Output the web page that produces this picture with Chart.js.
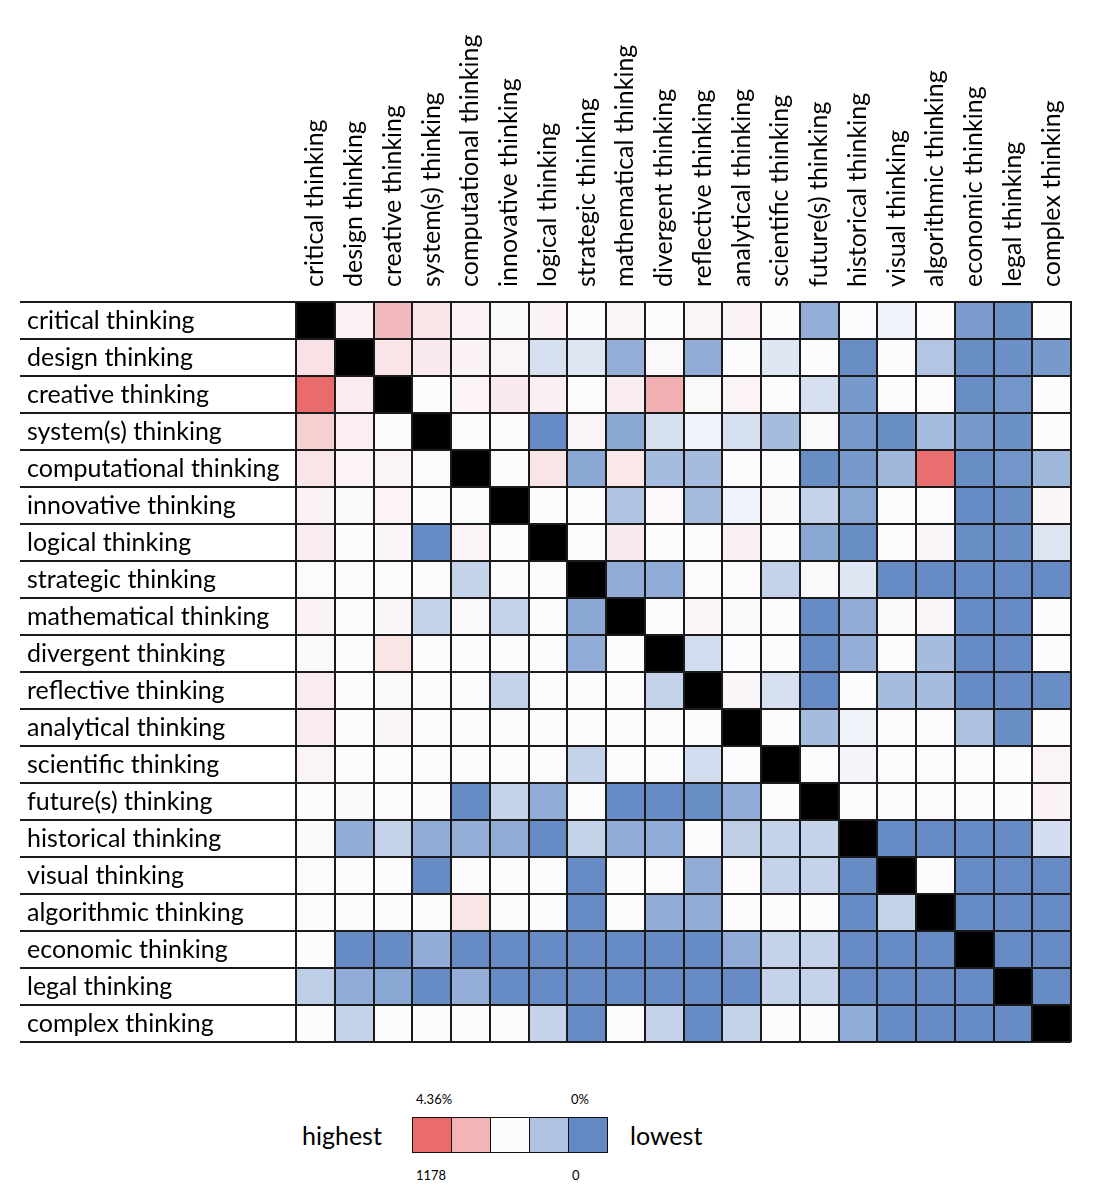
<!DOCTYPE html>
<html>
<head>
<meta charset="utf-8">
<script src="https://cdn.jsdelivr.net/npm/chart.js@4.4.1/dist/chart.umd.min.js"></script>
<style>
body { margin: 0; background: #fff; font-family: Lato, "Noto Sans", sans-serif; color: #000; }
#wrap { position: relative; width: 1115px; height: 1200px; }
#chartBox { position: absolute; left: 0; top: 0; width: 1115px; height: 1060px; }
.txt { position: absolute; white-space: nowrap; }
.big { font-size: 25px; line-height: 30px; }
.small { font-size: 13px; line-height: 16px; }
#keyBoxes { position: absolute; left: 412px; top: 1117px; display: flex; border: 1.5px solid #111; }
#keyBoxes div { width: 38px; height: 34px; border-left: 1.5px solid #111; }
#keyBoxes div:first-child { border-left: none; }
</style>
</head>
<body>
<div id="wrap">
  <div id="chartBox"><canvas id="heat"></canvas></div>
  <div class="txt big" style="left:302px; top:1120px;">highest</div>
  <div class="txt big" style="left:630px; top:1120px;">lowest</div>
  <div class="txt small" id="pctHigh" style="left:416px; top:1091px;"></div>
  <div class="txt small" id="pctLow" style="left:571px; top:1091px;"></div>
  <div class="txt small" id="cntHigh" style="left:416px; top:1167px;"></div>
  <div class="txt small" id="cntLow" style="left:572px; top:1167px;"></div>
  <div id="keyBoxes"></div>
</div>
<script>
// thinking types, same order for rows and columns
const terms = ['critical thinking', 'design thinking', 'creative thinking', 'system(s) thinking',
  'computational thinking', 'innovative thinking', 'logical thinking', 'strategic thinking',
  'mathematical thinking', 'divergent thinking', 'reflective thinking', 'analytical thinking',
  'scientific thinking', 'future(s) thinking', 'historical thinking', 'visual thinking',
  'algorithmic thinking', 'economic thinking', 'legal thinking', 'complex thinking'];

// co-occurrence counts per row (null = same term)
const critical      = [null, 130, 560, 220, 130, 85, 130, 50, 110, 50, 110, 130, 60, 16, 50, 46, 50, 8, 3, 50];
const design        = [250, null, 230, 190, 130, 110, 38, 41, 16, 80, 15, 50, 41, 55, 2, 55, 26, 2, 3, 7];
const creative      = [1178, 180, null, 50, 120, 190, 150, 50, 170, 650, 85, 120, 60, 38, 7, 55, 50, 2, 5, 52];
const systems       = [400, 160, 50, null, 62, 50, 1, 110, 13, 38, 46, 38, 22, 80, 7, 2, 22, 7, 3, 58];
const computational = [230, 120, 110, 65, null, 50, 240, 13, 210, 22, 22, 55, 50, 2, 7, 20, 1150, 2, 5, 20];
const innovative    = [130, 80, 120, 50, 50, null, 60, 50, 25, 90, 22, 46, 75, 32, 13, 50, 50, 1, 2, 100];
const logical       = [170, 50, 100, 1, 110, 50, null, 50, 190, 50, 60, 150, 50, 13, 2, 50, 100, 2, 2, 40];
const strategic     = [65, 50, 50, 60, 32, 50, 50, null, 15, 15, 50, 50, 32, 80, 41, 1, 1, 1, 1, 1];
const mathematical  = [130, 50, 100, 32, 80, 32, 50, 13, null, 50, 95, 75, 58, 1, 15, 75, 95, 1, 1, 52];
const divergent     = [75, 60, 240, 50, 50, 50, 50, 15, 50, null, 36, 52, 52, 1, 16, 52, 22, 1, 1, 52];
const reflective    = [180, 50, 70, 50, 50, 32, 50, 50, 50, 32, null, 95, 38, 1, 50, 22, 22, 1, 1, 2];
const analytical    = [180, 50, 100, 50, 50, 50, 65, 50, 50, 50, 50, null, 50, 22, 46, 65, 52, 24, 2, 52];
const scientific    = [110, 50, 52, 50, 50, 50, 52, 32, 52, 50, 36, 50, null, 52, 47, 50, 55, 50, 52, 115];
const futures       = [52, 70, 50, 65, 1, 32, 15, 52, 1, 1, 2, 15, 50, null, 50, 52, 65, 52, 52, 130];
const historical    = [70, 15, 32, 15, 16, 15, 1, 32, 15, 15, 52, 30, 32, 32, null, 1, 1, 1, 1, 37];
const visual        = [65, 50, 50, 1, 50, 50, 50, 1, 50, 50, 15, 50, 32, 32, 1, null, 50, 1, 1, 1];
const algorithmic   = [65, 50, 50, 50, 240, 50, 50, 1, 50, 15, 15, 50, 50, 50, 1, 32, null, 1, 1, 1];
const economic      = [50, 1, 1, 15, 1, 1, 1, 1, 1, 1, 1, 15, 32, 32, 1, 1, 1, null, 1, 1];
const legal         = [30, 15, 13, 1, 16, 1, 1, 1, 1, 1, 1, 1, 32, 32, 1, 1, 1, 1, null, 1];
const complex       = [55, 32, 50, 50, 50, 50, 32, 1, 50, 32, 1, 32, 50, 50, 15, 1, 1, 1, 1, null];

const matrix = [critical, design, creative, systems, computational, innovative, logical, strategic,
  mathematical, divergent, reflective, analytical, scientific, futures, historical, visual,
  algorithmic, economic, legal, complex];

// colour key
const maxCount = 1178;
const midCount = 50;
const maxPct = '4.36%';
const minPct = '0%';
const legendValues = [1178, 614, 50, 25, 0];

const RED = [233, 107, 108], WHITE = [252, 252, 255], BLUE = [99, 137, 196];

function mix(a, b, t) {
  return 'rgb(' + a.map((v, i) => Math.round(v + (b[i] - v) * t)).join(',') + ')';
}

function cellColor(v) {
  if (v === null) return '#000';
  if (v <= midCount) return mix(BLUE, WHITE, v / midCount);
  return mix(WHITE, RED, Math.min(1, (v - midCount) / (maxCount - midCount)));
}

Chart.defaults.font.family = 'Lato, "Noto Sans", sans-serif';
Chart.defaults.color = '#000';

const datasets = matrix.map((row, r) => ({
  label: terms[r],
  data: terms.map(() => [r, r + 1]),
  backgroundColor: row.map(cellColor),
  borderWidth: 0,
  barPercentage: 1,
  categoryPercentage: 1,
  grouped: false
}));

const lineCol = '#1a1a1a';

const ctx = document.getElementById('heat').getContext('2d');
new Chart(ctx, {
  type: 'bar',
  data: { labels: terms, datasets: datasets },
  options: {
    responsive: true,
    maintainAspectRatio: false,
    animation: false,
    layout: { padding: { left: 27, right: 44, top: 0, bottom: 14 } },
    plugins: { legend: { display: false }, tooltip: { enabled: false } },
    scales: {
      x: {
        position: 'top',
        offset: true,
        grid: { offset: true, color: lineCol, lineWidth: 2, drawTicks: false, z: 1 },
        border: { color: lineCol, width: 2, z: 1 },
        ticks: { autoSkip: false, minRotation: 90, maxRotation: 90, padding: 15, labelOffset: 30, font: { size: 25 } },
        afterFit: s => { s.height = 302; }
      },
      y: {
        display: false,
        reverse: true,
        min: 0,
        max: terms.length
      },
      rows: {
        type: 'category',
        labels: terms,
        position: 'left',
        offset: true,
        grid: { offset: true, color: lineCol, lineWidth: 2, drawTicks: true, tickLength: 276, z: 1 },
        border: { color: lineCol, width: 2, z: 1 },
        ticks: { autoSkip: false, crossAlign: 'far', font: { size: 25 } },
        afterFit: s => { s.width = 269; }
      }
    }
  }
});

// legend key
document.getElementById('pctHigh').textContent = maxPct;
document.getElementById('pctLow').textContent = minPct;
document.getElementById('cntHigh').textContent = maxCount;
document.getElementById('cntLow').textContent = 0;
const keyBoxes = document.getElementById('keyBoxes');
legendValues.forEach(v => {
  const d = document.createElement('div');
  d.style.background = cellColor(v);
  keyBoxes.appendChild(d);
});
</script>
</body>
</html>
